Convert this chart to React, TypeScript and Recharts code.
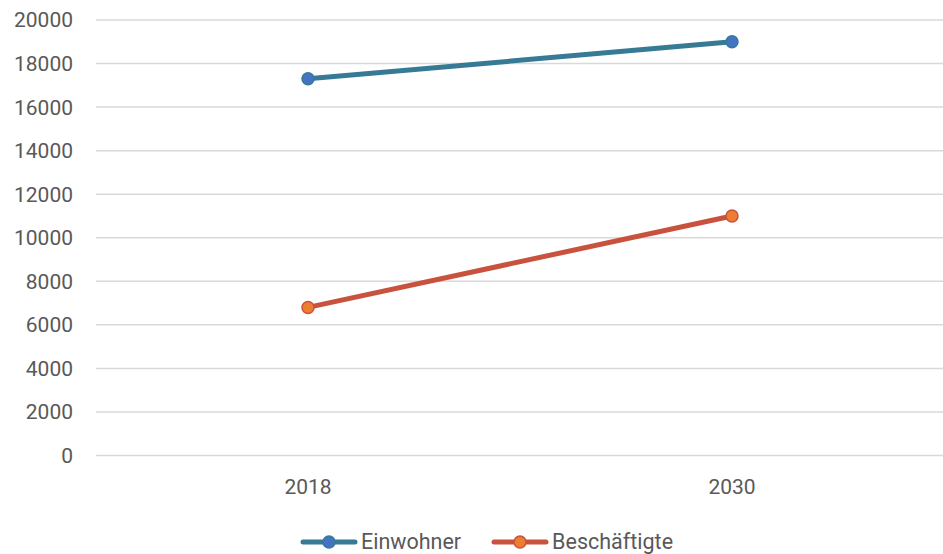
import { LineChart, Line, XAxis, YAxis, CartesianGrid, Legend } from 'recharts';

const years: string[] = ['2018', '2030'];
const einwohner: number[] = [17300, 19000];
const beschaeftigte: number[] = [6800, 11000];
const yTicks: number[] = [0, 2000, 4000, 6000, 8000, 10000, 12000, 14000, 16000, 18000, 20000];

const seriesInfo = [
  { key: 'einwohner', name: 'Einwohner', line: '#377A96', dot: '#4472C4' },
  { key: 'beschaeftigte', name: 'Beschäftigte', line: '#C9523F', dot: '#ED7D31' },
];

const chartData = years.map((year, i) => ({
  year,
  einwohner: einwohner[i],
  beschaeftigte: beschaeftigte[i],
}));

const FONT = 'Roboto, "Open Sans", sans-serif';

const LegendBox = () => (
  <div
    style={{
      display: 'flex',
      justifyContent: 'center',
      alignItems: 'center',
      gap: 30,
      paddingTop: 18,
      paddingLeft: 30,
      fontFamily: FONT,
      fontSize: 21.5,
      color: '#595959',
    }}
  >
    {seriesInfo.map((s) => (
      <div key={s.key} style={{ display: 'flex', alignItems: 'center', gap: 3 }}>
        <svg width={58} height={16}>
          <line x1={3} y1={8} x2={55} y2={8} stroke={s.line} strokeWidth={5} strokeLinecap="round" />
          <circle cx={29} cy={8} r={6} fill={s.dot} stroke={s.line} strokeWidth={1.5} />
        </svg>
        <span>{s.name}</span>
      </div>
    ))}
  </div>
);

const App = () => {
  return (
    <div style={{ position: 'absolute', left: 0, top: 0 }}>
      <LineChart
        width={943}
        height={554}
        data={chartData}
        margin={{ top: 20, right: 0, left: 0, bottom: 0 }}
      >
        <CartesianGrid vertical={false} stroke="#D9D9D9" strokeWidth={1.5} />
        <XAxis
          dataKey="year"
          axisLine={false}
          tickLine={false}
          height={55.5}
          tickMargin={18}
          padding={{ left: 212, right: 211 }}
          tick={{ fill: '#595959', fontSize: 21, fontFamily: FONT }}
        />
        <YAxis
          domain={[0, 20000]}
          ticks={yTicks}
          width={96}
          axisLine={false}
          tickLine={false}
          tickMargin={17}
          tick={{ fill: '#595959', fontSize: 21, fontFamily: FONT }}
        />
        <Legend verticalAlign="bottom" height={43} content={<LegendBox />} />
        {seriesInfo.map((s) => (
          <Line
            key={s.key}
            dataKey={s.key}
            name={s.name}
            stroke={s.line}
            strokeWidth={5}
            dot={{ r: 6, fill: s.dot, stroke: s.line, strokeWidth: 1.5 }}
            activeDot={false}
            isAnimationActive={false}
          />
        ))}
      </LineChart>
    </div>
  );
};

export default App;
